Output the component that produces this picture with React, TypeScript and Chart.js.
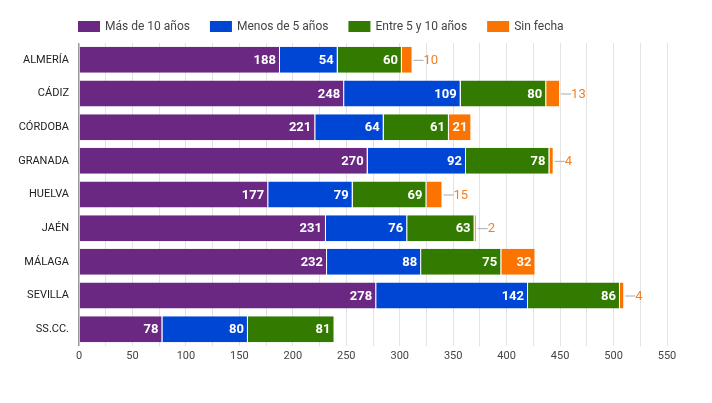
import React, { useEffect, useRef } from "react";
import { Chart, registerables } from "chart.js";

Chart.register(...registerables);

const categories = ["ALMERÍA", "CÁDIZ", "CÓRDOBA", "GRANADA", "HUELVA", "JAÉN", "MÁLAGA", "SEVILLA", "SS.CC."];
const seriesNames = ["Más de 10 años", "Menos de 5 años", "Entre 5 y 10 años", "Sin fecha"];
const masDe10 = [188, 248, 221, 270, 177, 231, 232, 278, 78];
const menosDe5 = [54, 109, 64, 92, 79, 76, 88, 142, 80];
const entre5y10 = [60, 80, 61, 78, 69, 63, 75, 86, 81];
const sinFecha = [10, 13, 21, 4, 15, 2, 32, 4, 0];
const colors = ["#6a2882", "#0046d5", "#337a00", "#fb7300"];
const xTickMax = 550;
const xTickStep = 25;

const FONT = "Roboto, 'Noto Sans', sans-serif";

const labelPlugin = {
  id: "segLabels",
  afterDatasetsDraw(chart: any) {
    const ctx = chart.ctx;
    ctx.save();
    chart.data.datasets.forEach((ds: any, di: number) => {
      const meta = chart.getDatasetMeta(di);
      meta.data.forEach((el: any, i: number) => {
        const v = ds.data[i];
        if (!v) return;
        const txt = String(v);
        const end = el.x;
        const start = el.base;
        const w = Math.abs(end - start);
        ctx.font = `bold 13px ${FONT}`;
        const tw = ctx.measureText(txt).width;
        ctx.textBaseline = "middle";
        if (w >= tw + 6) {
          ctx.fillStyle = "#ffffff";
          ctx.textAlign = "right";
          ctx.fillText(txt, end - 4, el.y + 1);
        } else {
          ctx.strokeStyle = "#aaaaaa";
          ctx.lineWidth = 1;
          ctx.beginPath();
          ctx.moveTo(end + 1, el.y + 0.5);
          ctx.lineTo(end + 11, el.y + 0.5);
          ctx.stroke();
          ctx.font = `13px ${FONT}`;
          ctx.fillStyle = "#f08128";
          ctx.textAlign = "left";
          ctx.fillText(txt, end + 11, el.y + 1);
        }
      });
    });
    ctx.restore();
  },
};

const legendPlugin = {
  id: "customLegend",
  afterDraw(chart: any) {
    const ctx = chart.ctx;
    ctx.save();
    ctx.font = `12px ${FONT}`;
    ctx.textBaseline = "middle";
    ctx.textAlign = "left";
    let x = chart.chartArea.left - 1;
    const y = 26.5;
    chart.data.datasets.forEach((ds: any) => {
      ctx.fillStyle = ds.backgroundColor;
      ctx.fillRect(x, 21, 22, 11);
      ctx.fillStyle = "#444444";
      ctx.fillText(ds.label, x + 27, y);
      x += 27 + ctx.measureText(ds.label).width + 20;
    });
    ctx.restore();
  },
};

export default function App() {
  const ref = useRef<HTMLCanvasElement>(null);
  useEffect(() => {
    const seriesData = [masDe10, menosDe5, entre5y10, sinFecha];
    const chart = new Chart(ref.current!, {
      type: "bar",
      data: {
        labels: categories,
        datasets: seriesNames.map((name, i) => ({
          label: name,
          data: seriesData[i],
          backgroundColor: colors[i],
          borderColor: "#ffffff",
          borderWidth: { left: 0, right: 1, top: 0, bottom: 0 },
          borderSkipped: false,
          categoryPercentage: 1,
          barPercentage: 0.77,
        })),
      },
      options: {
        indexAxis: "y",
        responsive: false,
        animation: false,
        devicePixelRatio: 1,
        layout: { padding: { top: 43, right: 45, left: 0, bottom: 0 } },
        plugins: {
          legend: { display: false },
          tooltip: { enabled: false },
        },
        scales: {
          x: {
            stacked: true,
            min: 0,
            max: xTickMax,
            afterFit(scale: any) {
              scale.height = 57;
            },
            border: { display: false },
            grid: {
              drawTicks: false,
              color: (c: any) => (c.tick && c.tick.value === 0 ? "#9a9a9a" : "#e3e3e3"),
              lineWidth: (c: any) => (c.tick && c.tick.value === 0 ? 1.5 : 1),
            },
            ticks: {
              stepSize: xTickStep,
              autoSkip: false,
              maxRotation: 0,
              padding: 4,
              color: "#444444",
              font: { family: FONT, size: 11 },
              callback: (v: any) => (Number(v) % 50 === 0 ? String(v) : ""),
            },
          },
          y: {
            stacked: true,
            afterFit(scale: any) {
              scale.width = 79;
            },
            border: { display: false },
            grid: { display: false, drawTicks: false },
            ticks: {
              padding: 10,
              color: "#222222",
              font: { family: FONT, size: 11 },
            },
          },
        },
      },
      plugins: [labelPlugin, legendPlugin],
    } as any);
    return () => chart.destroy();
  }, []);
  return (
    <div style={{ position: "fixed", left: 0, top: 0, width: 712, height: 403, background: "#fff" }}>
      <canvas ref={ref} width={712} height={403} style={{ width: 712, height: 403 }} />
    </div>
  );
}
